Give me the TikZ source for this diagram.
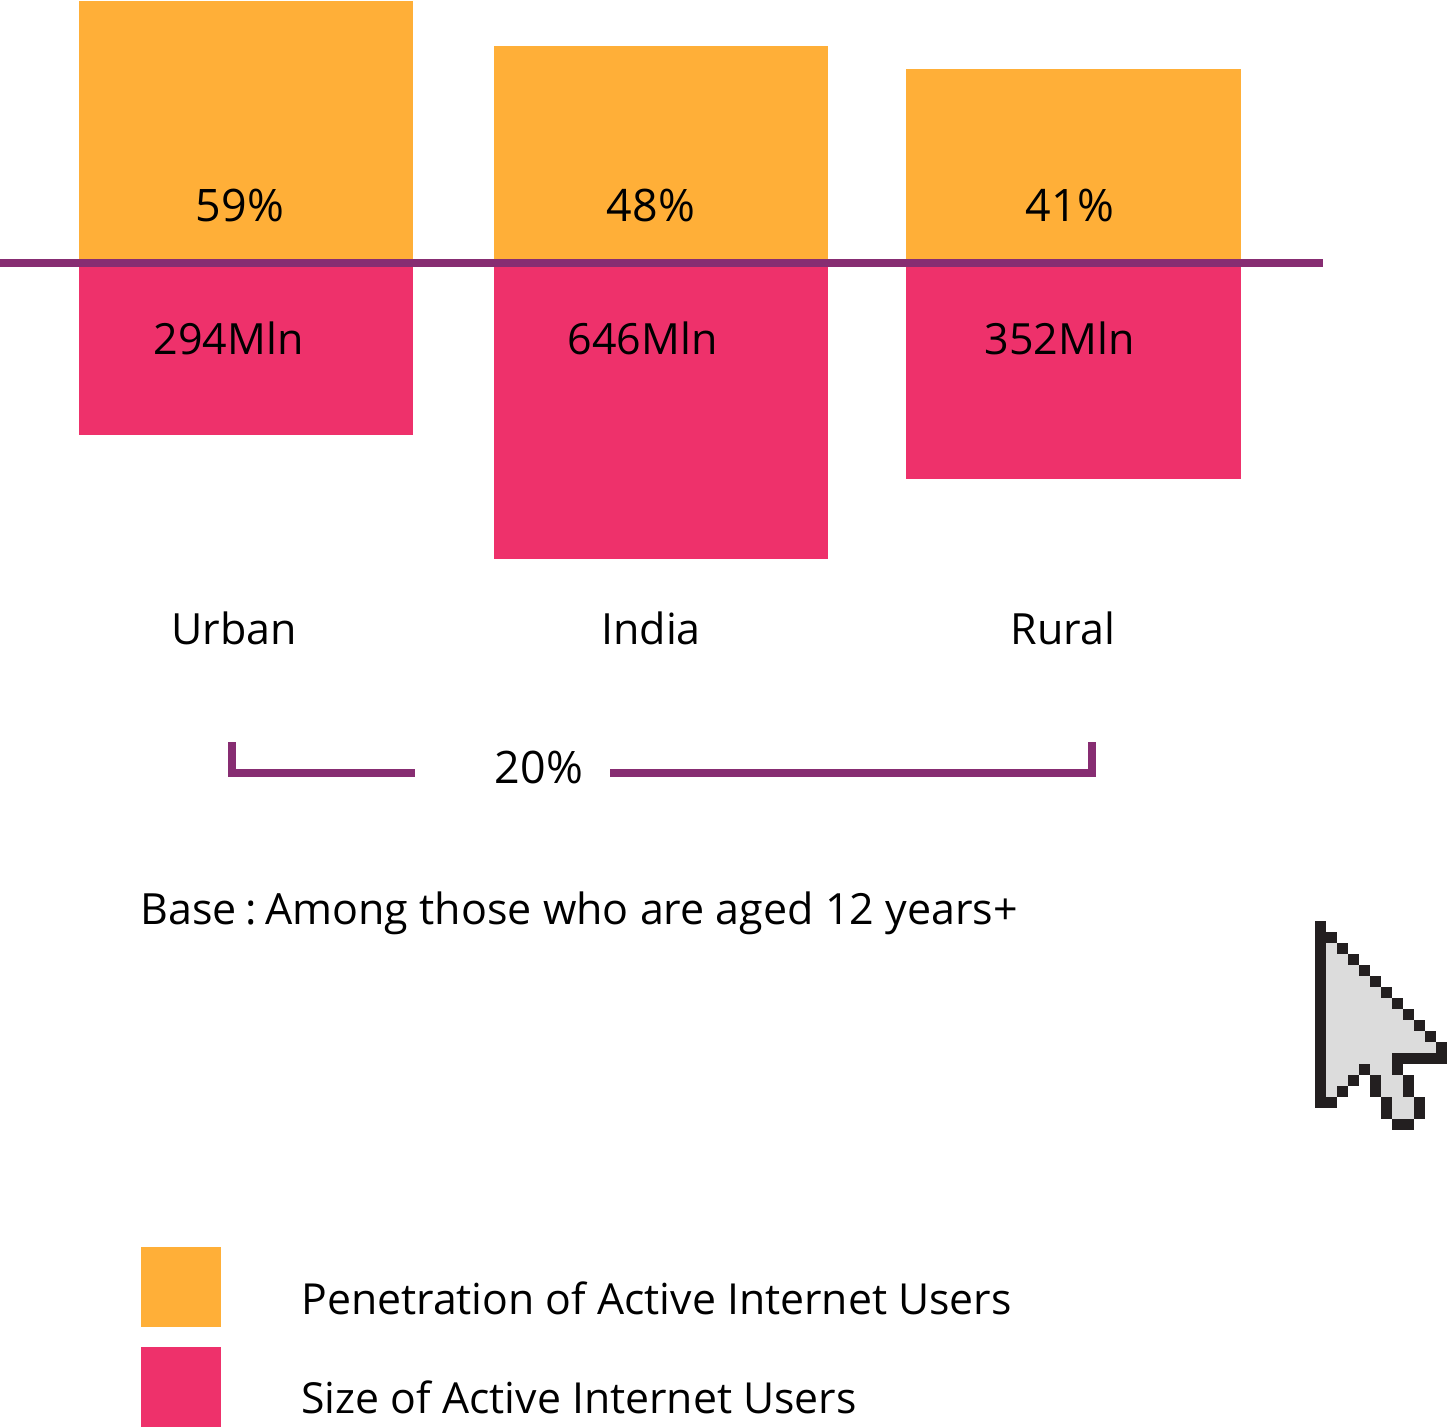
\documentclass[tikz,border=0pt]{standalone}
\usepackage{fontspec}
\setmainfont{Open Sans}
\definecolor{barorange}{HTML}{FFAF38}
\definecolor{barpink}{HTML}{EE316B}
\definecolor{linepurple}{HTML}{872D72}
\definecolor{curgrey}{HTML}{DCDCDC}
\definecolor{curblack}{HTML}{231F20}
\tikzset{
  lab/.style={anchor=base,inner sep=0pt,outer sep=0pt,text=black,font=\fontsize{43}{50}\selectfont},
  labp/.style={lab,font=\fontsize{44.8}{50}\selectfont},
  labw/.style={lab,anchor=base west},
  labl/.style={labw,font=\fontsize{42.75}{50}\selectfont},
  brk/.style={draw=linepurple,line width=8pt,line cap=butt,miter limit=10},
}
\newcommand{\pxk}[2]{\fill[curblack] ({1315+11*#1},{921+11*#2}) rectangle ++(11,11);}
\newcommand{\pxg}[3]{\fill[curgrey] ({1315+11*#1},{921+11*#3}) rectangle ({1315+11*(#2+1)},{921+11*(#3+1)});}
\begin{document}
\begin{tikzpicture}[x=1pt,y=-1pt]
\useasboundingbox (0,0) rectangle (1447,1427);
% bars
\fill[barorange] (79,1) rectangle (413,262);
\fill[barpink] (79,262) rectangle (413,435);
\fill[barorange] (494,46) rectangle (828,262);
\fill[barpink] (494,262) rectangle (828,559);
\fill[barorange] (906,69) rectangle (1240.5,262);
\fill[barpink] (906,262) rectangle (1240.5,479);
% axis
\coordinate (axl) at (0,263);
\coordinate (axr) at (1323,263);
\draw[draw=linepurple,line width=8pt] (axl) -- (axr);
% labels
\node[labp] (p1) at (240,221) {59\%};
\node[labp] (p2) at (651,221) {48\%};
\node[labp] (p3) at (1070,221) {41\%};
\node[lab] (s1) at (228.5,354.5) {294Mln};
\node[lab] (s2) at (642.5,354.5) {646Mln};
\node[lab] (s3) at (1059.5,354.5) {352Mln};
\node[lab] (c1) at (234,644.5) {Urban};
\node[lab] (c2) at (651,644.5) {India};
\node[lab] (c3) at (1063,644.5) {Rural};
\node[labp] (diff) at (539,783) {20\%};
% bracket
\coordinate (bl0) at (232,742);
\coordinate (bl1) at (232,773);
\coordinate (bl2) at (414.5,773);
\coordinate (br0) at (1092,742);
\coordinate (br1) at (1092,773);
\coordinate (br2) at (610,773);
\draw[brk] (bl0) -- (bl1) -- (bl2);
\draw[brk] (br0) -- (br1) -- (br2);
\node[labw] (base) at (140.5,924.5) {Base\hspace{-3pt} :\hspace{-6pt} Among those who are aged 12 years+};
% cursor
\pxg{1}{1}{2}\pxg{1}{2}{3}\pxg{1}{3}{4}\pxg{1}{4}{5}\pxg{1}{5}{6}\pxg{1}{6}{7}\pxg{1}{7}{8}\pxg{1}{8}{9}\pxg{1}{9}{10}\pxg{1}{10}{11}\pxg{1}{6}{12}
\pxg{1}{3}{13}\pxg{5}{6}{13}\pxg{1}{2}{14}\pxg{6}{7}{14}\pxg{1}{1}{15}\pxg{6}{7}{15}\pxg{7}{8}{16}\pxg{7}{8}{17}
\foreach \r in {0,...,16} {\pxk{0}{\r}}
\pxk{1}{1}
\foreach \i in {2,...,11} {\pxk{\i}{\i}}
\foreach \i in {7,...,11} {\pxk{\i}{12}}
\pxk{7}{13}\pxk{4}{13}\pxk{3}{14}\pxk{5}{14}\pxk{8}{14}\pxk{2}{15}\pxk{5}{15}\pxk{8}{15}
\pxk{1}{16}\pxk{6}{16}\pxk{9}{16}\pxk{6}{17}\pxk{9}{17}\pxk{7}{18}\pxk{8}{18}
% legend
\fill[barorange] (141,1247) rectangle (221,1327);
\fill[barpink] (141,1347) rectangle (221,1427);
\node[labl] (l1) at (301.5,1314.5) {Penetration of Active Internet Users};
\node[labl] (l2) at (301.5,1413.5) {Size of Active Internet Users};
\end{tikzpicture}
\end{document}
